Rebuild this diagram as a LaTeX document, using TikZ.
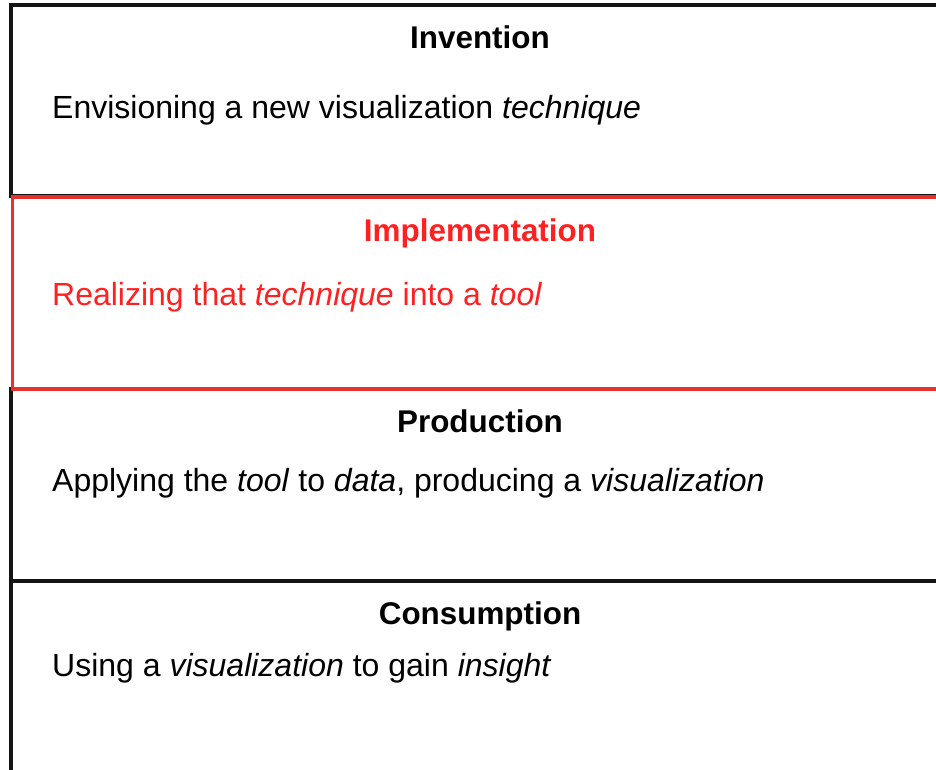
\documentclass[tikz,border=0pt]{standalone}
\usepackage{fontspec}
\setmainfont{Liberation Sans}
\definecolor{boxline}{RGB}{20,20,20}
\definecolor{redline}{RGB}{232,48,48}
\definecolor{redtext}{RGB}{255,32,32}
\begin{document}
\begin{tikzpicture}[x=1pt,y=-1pt,
  framebox/.style={draw=boxline,line width=3.2pt},
  redbox/.style={draw=redline,line width=3.2pt},
  titletext/.style={font=\fontsize{31.4}{36}\selectfont\bfseries,anchor=base,inner sep=0pt},
  bodytext/.style={font=\fontsize{32}{36}\selectfont,anchor=base west,inner sep=0pt}]
\useasboundingbox (0,0) rectangle (936,769);
% boxes
\draw[framebox] (11,5) rectangle (960,196);
\draw[framebox] (11,389) rectangle (960,581);
\draw[framebox] (11,581) rectangle (960,800);
\draw[redbox] (12.5,197) rectangle (960,389);
% texts
\node[titletext] (t1) at (480,48) {Invention};
\node[bodytext] (b1) at (52,118) {Envisioning a new visualization \textit{technique}};
\node[titletext,text=redtext] (t2) at (480,241) {Implementation};
\node[bodytext,text=redtext] (b2) at (52,305) {Realizing that \textit{technique} into a \textit{tool}};
\node[titletext] (t3) at (480,432) {Production};
\node[bodytext] (b3) at (52,491) {Applying the \textit{tool} to \textit{data}, producing a \textit{visualization}};
\node[titletext] (t4) at (480,624) {Consumption};
\node[bodytext] (b4) at (52,676) {Using a \textit{visualization} to gain \textit{insight}};
\end{tikzpicture}
\end{document}
